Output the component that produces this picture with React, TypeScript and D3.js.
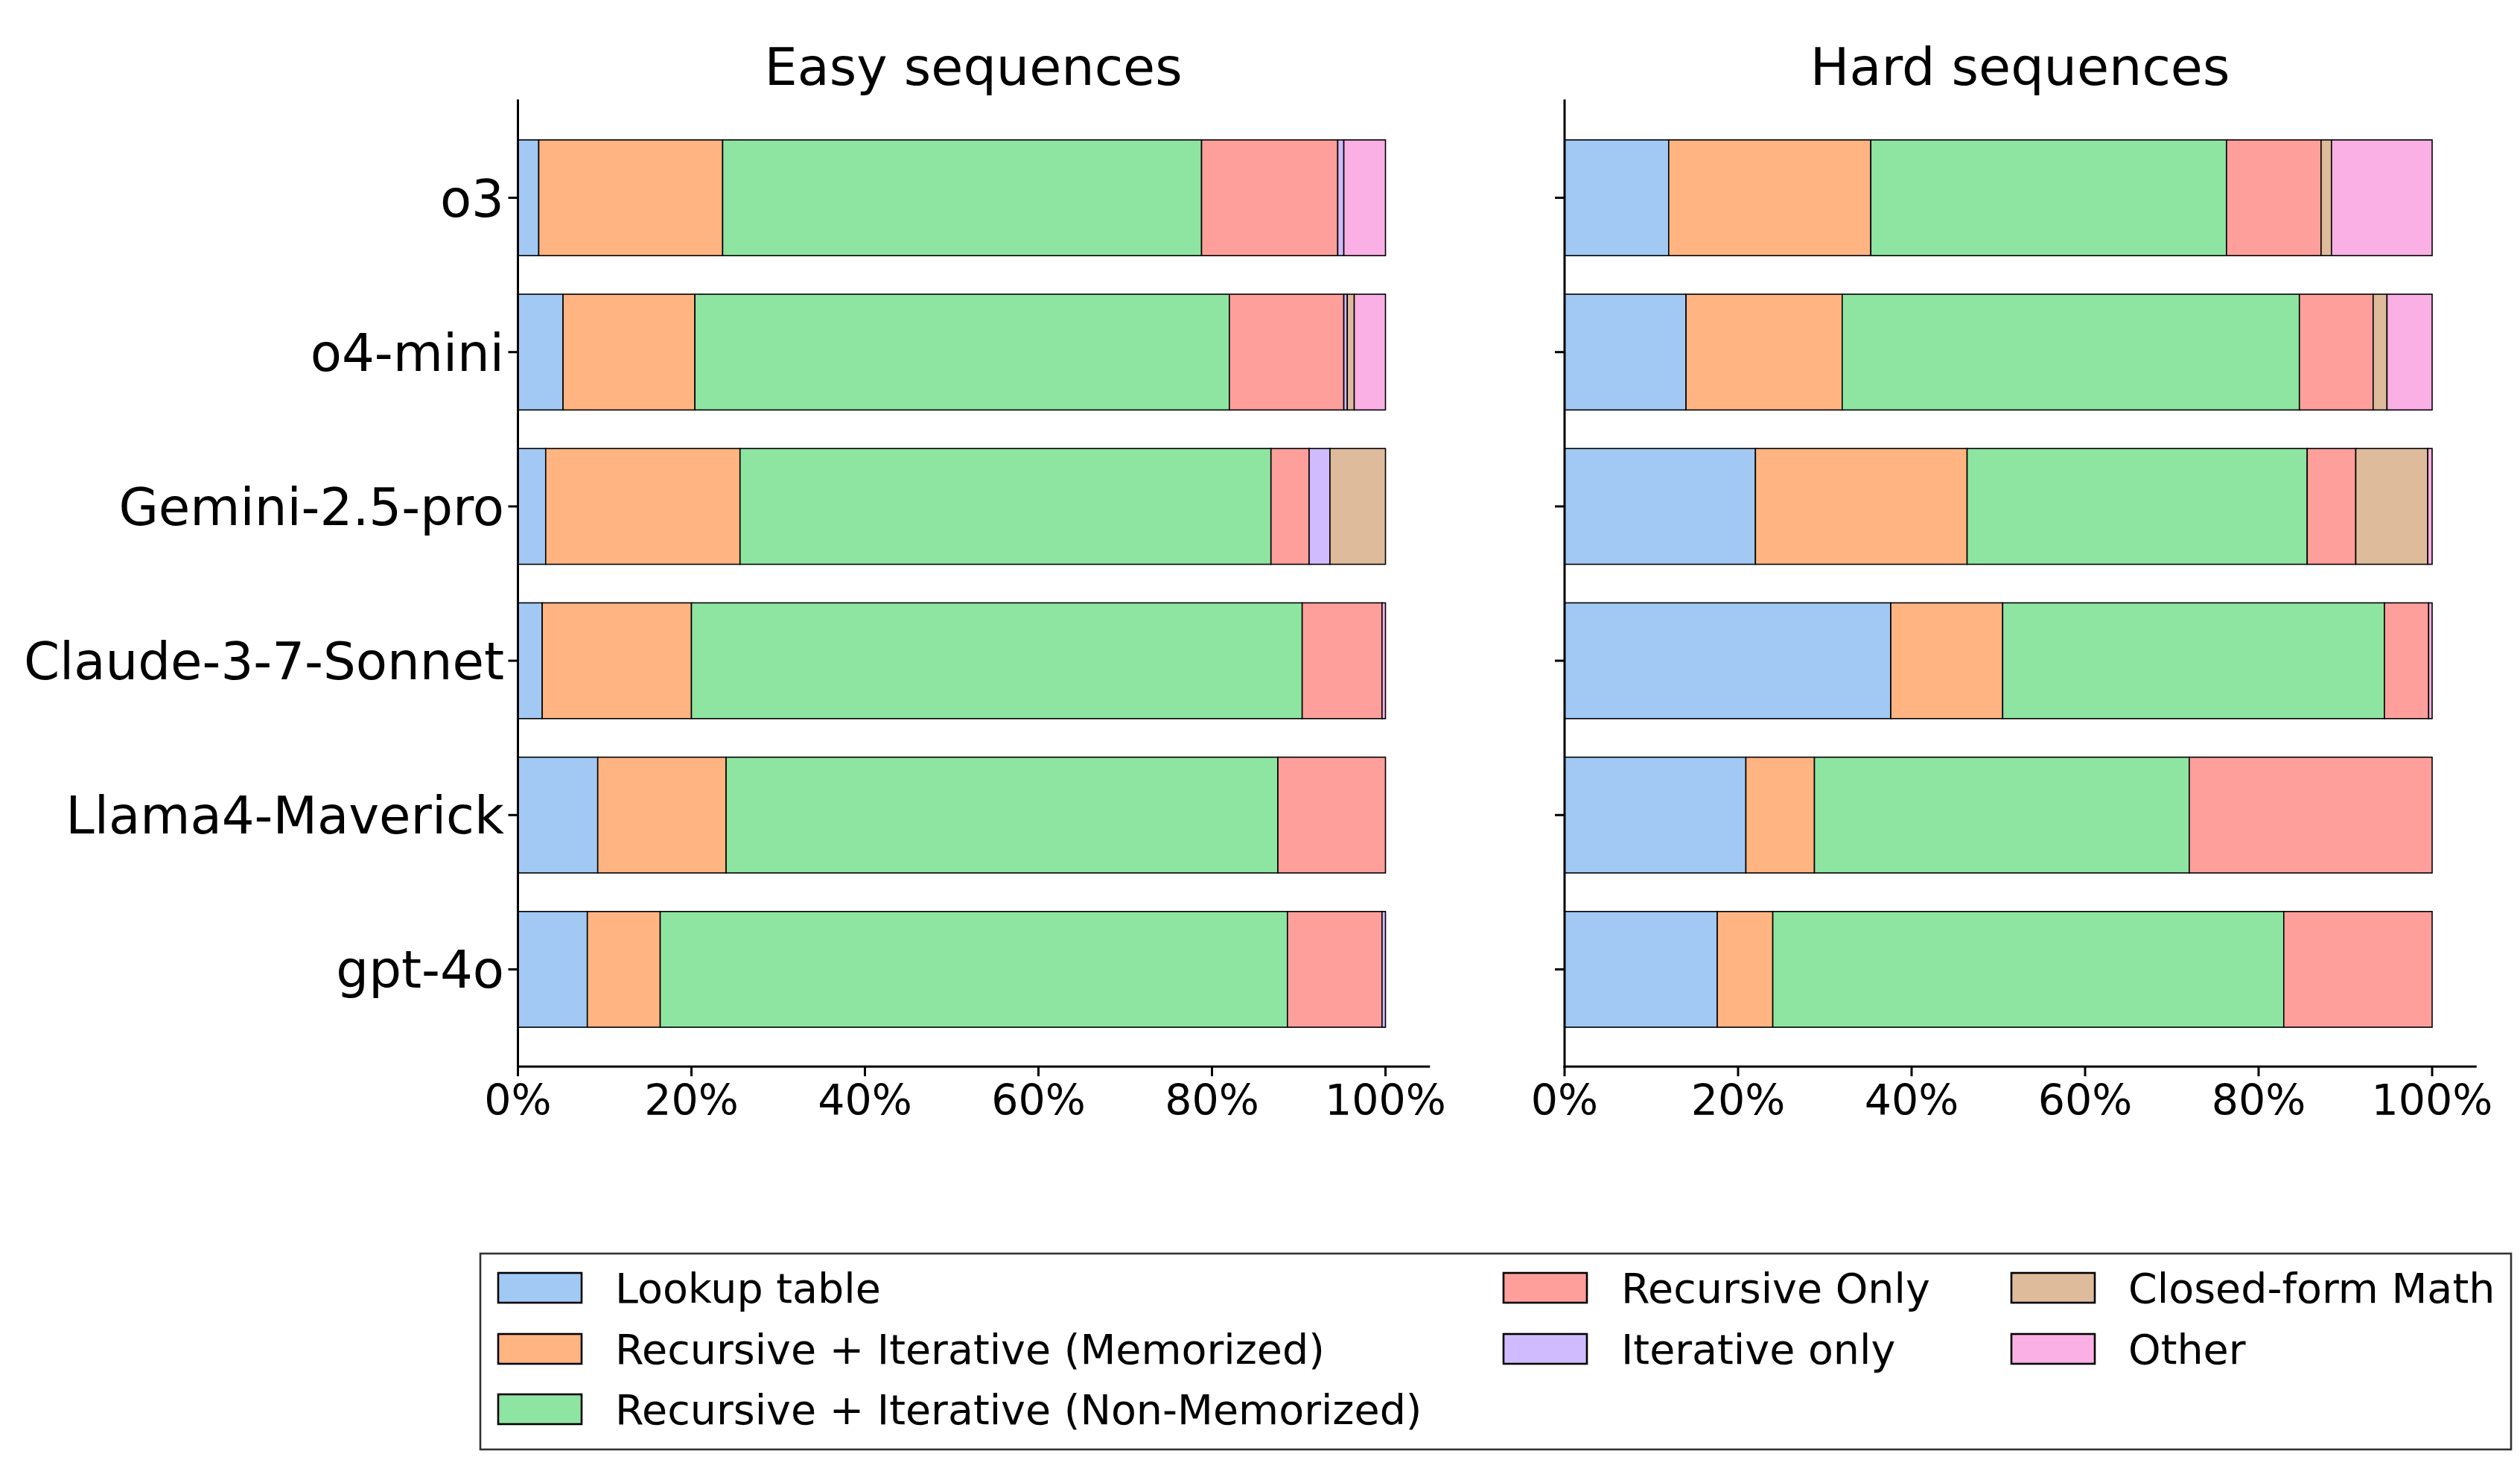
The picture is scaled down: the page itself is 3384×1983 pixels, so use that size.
import React from "react";
import * as d3 from "d3";

// ---------- data (percent of solutions) ----------
const categories = ["o3", "o4-mini", "Gemini-2.5-pro", "Claude-3-7-Sonnet", "Llama4-Maverick", "gpt-4o"];
const methods = [
  "Lookup table",
  "Recursive + Iterative (Memorized)",
  "Recursive + Iterative (Non-Memorized)",
  "Recursive Only",
  "Iterative only",
  "Closed-form Math",
  "Other",
];
const methodColors = ["#a1c9f4", "#ffb482", "#8de5a1", "#ff9f9b", "#d0bbff", "#debb9b", "#fab0e4"];

// Easy sequences, one array per method, in category order
const easyLookup = [2.4, 5.2, 3.2, 2.8, 9.2, 8.0];
const easyMemo = [21.2, 15.2, 22.4, 17.2, 14.8, 8.4];
const easyNonMemo = [55.2, 61.6, 61.2, 70.4, 63.6, 72.3];
const easyRecursive = [15.7, 13.2, 4.4, 9.2, 12.4, 10.9];
const easyIterative = [0.7, 0.4, 2.4, 0, 0, 0.4];
const easyClosed = [0, 0.8, 6.4, 0, 0, 0];
const easyOther = [4.8, 3.6, 0, 0.4, 0, 0];

// Hard sequences
const hardLookup = [12.0, 14.0, 22.0, 37.6, 20.9, 17.6];
const hardMemo = [23.3, 18.0, 24.4, 12.9, 7.9, 6.4];
const hardNonMemo = [41.0, 52.7, 39.2, 44.0, 43.2, 58.9];
const hardRecursive = [10.9, 8.5, 5.6, 5.1, 28.0, 17.1];
const hardIterative = [0, 0, 0, 0, 0, 0];
const hardClosed = [1.2, 1.6, 8.3, 0, 0, 0];
const hardOther = [11.6, 5.2, 0.5, 0.4, 0, 0];

const xTicks = [0, 20, 40, 60, 80, 100];
const xTickLabels = ["0%", "20%", "40%", "60%", "80%", "100%"];
const panelTitles = ["Easy sequences", "Hard sequences"];

// ---------- layout ----------
const W = 3384;
const H = 1983;
const FONT = "DejaVu Sans, Liberation Sans, sans-serif";
const AX_TOP = 135;
const AX_BOTTOM = 1432;
const PANEL_X = [
  [695.5, 695.5 + 1.05 * 1165],
  [2101, 2101 + 1.05 * 1165],
];
const BAR_H = 0.75;
const TICK_LEN = 13;
const AX_W = 3;

function buildRows(series: number[][]) {
  return categories.map((c, i) => {
    const row: Record<string, any> = { cat: c };
    methods.forEach((m, k) => (row[m] = series[k][i]));
    return row;
  });
}

const easySeries = [easyLookup, easyMemo, easyNonMemo, easyRecursive, easyIterative, easyClosed, easyOther];
const hardSeries = [hardLookup, hardMemo, hardNonMemo, hardRecursive, hardIterative, hardClosed, hardOther];

function Panel({ idx, series }: { idx: number; series: number[][] }) {
  const [x0, x1] = PANEL_X[idx];
  const x = d3.scaleLinear().domain([0, 105]).range([x0, x1]);
  const y = d3.scaleLinear().domain([-0.63, categories.length - 1 + 0.63]).range([AX_TOP, AX_BOTTOM]);
  const stack = d3.stack<any>().keys(methods);
  const stacked = stack(buildRows(series));
  const bh = y(BAR_H) - y(0);

  return (
    <g>
      <text
        x={(x0 + x1) / 2}
        y={114}
        textAnchor="middle"
        fontSize={70}
        fontFamily={FONT}
        fill="#000"
      >
        {panelTitles[idx]}
      </text>
      {stacked.map((layer, k) => (
        <g key={layer.key}>
          {layer.map((d, i) => {
            const w = x(d[1]) - x(d[0]);
            if (w <= 0) return null;
            return (
              <rect
                key={i}
                x={x(d[0])}
                y={y(i) - bh / 2}
                width={w}
                height={bh}
                fill={methodColors[k]}
                stroke="#000"
                strokeWidth={1.6}
              />
            );
          })}
        </g>
      ))}
      {/* spines */}
      <line x1={x0} x2={x0} y1={AX_TOP} y2={AX_BOTTOM} stroke="#000" strokeWidth={AX_W} strokeLinecap="square" />
      <line x1={x0} x2={x1} y1={AX_BOTTOM} y2={AX_BOTTOM} stroke="#000" strokeWidth={AX_W} strokeLinecap="square" />
      {/* x ticks */}
      {xTicks.map((t, i) => (
        <g key={t}>
          <line x1={x(t)} x2={x(t)} y1={AX_BOTTOM} y2={AX_BOTTOM + TICK_LEN} stroke="#000" strokeWidth={AX_W} />
          <text x={x(t)} y={1497} textAnchor="middle" fontSize={57} fontFamily={FONT} fill="#000">
            {xTickLabels[i]}
          </text>
        </g>
      ))}
      {/* y ticks */}
      {categories.map((c, i) => (
        <g key={c}>
          <line x1={x0 - TICK_LEN} x2={x0} y1={y(i)} y2={y(i)} stroke="#000" strokeWidth={AX_W} />
          {idx === 0 && (
            <text x={677} y={y(i) + 25} textAnchor="end" fontSize={69} fontFamily={FONT} fill="#000">
              {c}
            </text>
          )}
        </g>
      ))}
    </g>
  );
}

function Legend() {
  const colX = [669, 2019, 2701];
  const textX = [826, 2177, 2858];
  const rowY = [1729, 1811, 1892];
  const perCol = [3, 2, 2];
  const items: { m: string; c: string; col: number; row: number }[] = [];
  let k = 0;
  perCol.forEach((n, col) => {
    for (let r = 0; r < n; r++) {
      items.push({ m: methods[k], c: methodColors[k], col, row: r });
      k++;
    }
  });
  return (
    <g>
      <rect x={645} y={1683} width={3372 - 645} height={1946 - 1683} fill="#fff" stroke="#333" strokeWidth={2.6} />
      {items.map((it) => (
        <g key={it.m}>
          <rect
            x={colX[it.col]}
            y={rowY[it.row] - 20}
            width={112}
            height={40}
            fill={it.c}
            stroke="#000"
            strokeWidth={2.6}
          />
          <text x={textX[it.col]} y={rowY[it.row] + 20.2} fontSize={55.5} fontFamily={FONT} fill="#000">
            {it.m}
          </text>
        </g>
      ))}
    </g>
  );
}

export default function App() {
  React.useEffect(() => {
    document.body.style.margin = "0";
    document.body.style.overflow = "hidden";
  }, []);
  return (
    <div style={{ position: "absolute", left: 0, top: 0 }}>
      <svg width={W} height={H} viewBox={`0 0 ${W} ${H}`} style={{ display: "block", background: "#fff" }}>
        <rect x={0} y={0} width={W} height={H} fill="#fff" />
        <Panel idx={0} series={easySeries} />
        <Panel idx={1} series={hardSeries} />
        <Legend />
      </svg>
    </div>
  );
}
